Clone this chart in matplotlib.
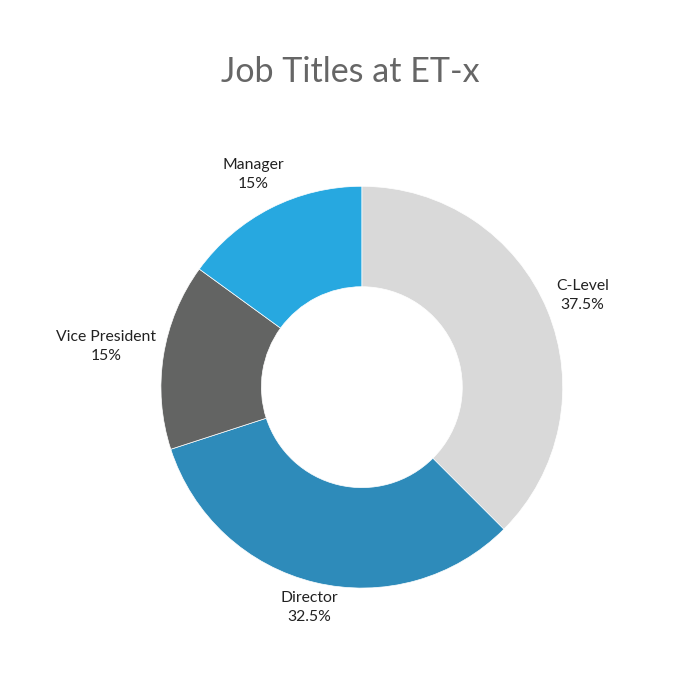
import numpy as np
import matplotlib.pyplot as plt

labels = ['C-Level', 'Director', 'Vice President', 'Manager']
shares = [37.5, 32.5, 15, 15]
pct_text = ['37.5%', '32.5%', '15%', '15%']
colors = ['#d9d9d9', '#2e8bba', '#636463', '#27a8e0']
# how far out each label sits, in radii
label_dist = [1.19, 1.13, 1.29, 1.19]

plt.rcParams['font.family'] = ['Lato', 'DejaVu Sans']

fig = plt.figure(figsize=(7, 7), dpi=100)
ax = fig.add_axes([0.0864, 0.0164, 0.861, 0.861])

wedges, _ = ax.pie(shares, colors=colors, startangle=90, counterclock=False,
                   radius=1,
                   wedgeprops=dict(width=0.5, edgecolor='white', linewidth=0.5))

for w, lab, pct, d in zip(wedges, labels, pct_text, label_dist):
    ang = np.deg2rad((w.theta1 + w.theta2) / 2)
    ax.text(d * np.cos(ang), d * np.sin(ang), f'{lab}\n{pct}',
            ha='center', va='center', fontsize=11.3, color='#222222',
            linespacing=1.45)

ax.set_xlim(-1.5, 1.5)
ax.set_ylim(-1.5, 1.5)
ax.set_aspect('equal')

fig.text(0.5, 0.897, 'Job Titles at ET-x', ha='center', va='center',
         fontsize=24.5, color='#666666')

fig.savefig('out.png', dpi=100, facecolor='white')
